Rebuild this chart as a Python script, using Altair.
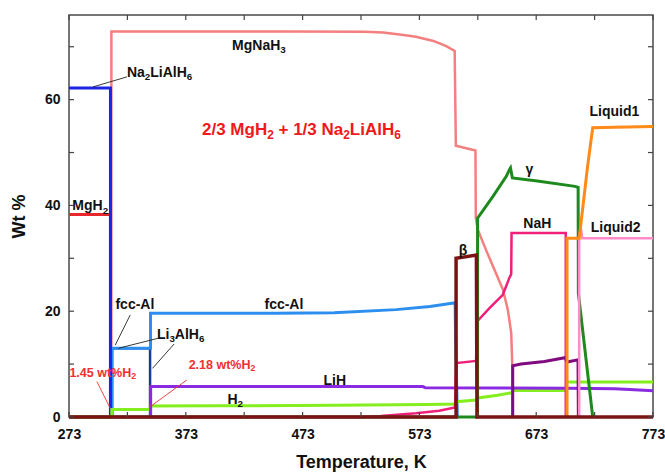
import altair as alt
import pandas as pd

FONT = "Liberation Sans"

# ---------------- series data (Temperature K, Wt %) ----------------
mgh2_T = [273, 308.5, 308.5]
mgh2_W = [38.3, 38.3, 0]

na2lialh6_T = [273, 308.5, 308.5]
na2lialh6_W = [62.2, 62.2, 0]

mgnah3_T = [309.3, 309.3, 462, 526, 542, 556, 570, 585, 596, 603.2, 604.2, 621, 621.3, 623, 630, 636, 644.5, 648.7, 651.6, 652.5, 652.5]
mgnah3_W = [0, 72.9, 72.9, 72.85, 72.7, 72.3, 71.9, 71.1, 70.1, 69.2, 51.3, 50.4, 37.6, 35.4, 31.6, 28.5, 24.1, 20.3, 15.9, 10.0, 0]

li3alh6_T = [309.5, 309.5, 342.4, 342.4]
li3alh6_W = [0, 13.0, 13.0, 0]

fccal_T = [310, 310, 342.8, 342.8, 450, 500, 553, 582, 595, 603.6, 604, 605.5]
fccal_W = [0, 13.0, 13.0, 19.6, 19.6, 19.7, 20.3, 20.9, 21.3, 21.6, 14.9, 0]

h2_T = [273, 309.6, 309.6, 342.6, 342.6, 400, 500, 580, 603.5, 604.5, 621.5, 623, 640, 652, 653, 698.8, 698.8, 773]
h2_W = [0, 0, 1.4, 1.4, 2.1, 2.12, 2.2, 2.35, 2.45, 2.9, 3.2, 3.6, 4.1, 4.6, 5.0, 5.0, 6.6, 6.6]

lih_T = [342.9, 342.9, 576, 578, 700, 740, 753, 773]
lih_W = [0, 5.75, 5.75, 5.55, 5.45, 5.35, 5.2, 4.95]

nah_T = [273, 522, 540, 570, 590, 603.5, 604.6, 621.5, 622.6, 633, 644.4, 650, 651.6, 651.9, 698.3, 698.3]
nah_W = [0, 0, 0.2, 0.7, 1.2, 1.8, 10.2, 10.6, 18.1, 20.6, 23.1, 26.3, 27.0, 34.8, 34.8, 0]

gamma_T = [273, 622.8, 622.8, 636, 647.4, 650.2, 651, 652.6, 674, 706.2, 708.9, 709.1, 721.4]
gamma_W = [0, 0, 37.6, 41.7, 45.5, 46.8, 47.1, 45.2, 44.6, 43.6, 43.4, 23.4, 0]

other_T = [652.9, 652.9, 660, 680, 697.5, 699.5, 708.8, 709.1]
other_W = [0, 9.7, 10.0, 10.5, 11.2, 10.4, 10.8, 0]

liquid2_T = [709.8, 709.8, 711.2, 712.5, 773]
liquid2_W = [0, 33.8, 35.7, 33.8, 33.8]

liquid1_T = [699.4, 699.4, 709.8, 712, 717, 721.4, 740, 773]
liquid1_W = [0, 33.8, 33.8, 37.9, 47.4, 54.7, 54.8, 54.9]

beta_T = [273, 604.4, 604.4, 621.8, 622.3, 773]
beta_W = [0, 0, 30.0, 30.6, 0, 0]

series = [
    ("MgNaH3", mgnah3_T, mgnah3_W, "#f47f7f", 2.5),
    ("MgH2", mgh2_T, mgh2_W, "#e8262b", 3),
    ("Li3AlH6", li3alh6_T, li3alh6_W, "#1b3a8c", 2.5),
    ("fcc-Al", fccal_T, fccal_W, "#2c8ff0", 3),
    ("Na2LiAlH6", na2lialh6_T, na2lialh6_W, "#1c25e6", 3),
    ("H2", h2_T, h2_W, "#84ee1e", 3),
    ("LiH", lih_T, lih_W, "#8a2be2", 3),
    ("NaH", nah_T, nah_W, "#f0207a", 2.5),
    ("gamma", gamma_T, gamma_W, "#1e8a1e", 3),
    ("other", other_T, other_W, "#800a80", 3),
    ("Liquid2", liquid2_T, liquid2_W, "#ff8cc8", 2.5),
    ("Liquid1", liquid1_T, liquid1_W, "#ff8a1a", 3),
    ("beta", beta_T, beta_W, "#7a1414", 3.5),
]

# ---------------- labels ('_' marks the next character as a subscript) ----------------
label_text = ["MgNaH_3", "Na_2LiAlH_6", "MgH_2", "Liquid1", "γ", "NaH", "Liquid2", "β",
              "fcc-Al", "fcc-Al", "Li_3AlH_6", "LiH", "H_2"]
label_T = [435.6, 350.6, 291.2, 740, 667.4, 674, 741, 610.3, 329.4, 457, 368.6, 500.6, 415.3]
label_W = [70.3, 65.2, 40.0, 57.8, 46.8, 36.6, 36.0, 31.5, 21.4, 21.4, 15.7, 7.0, 3.4]

red_text = ["2/3 MgH_2 + 1/3 Na_2LiAlH_6"]
red_T = [472.0]
red_W = [54.5]

note_text = ["1.45 wt%H_2", "2.18 wt%H_2"]
note_T = [301.9, 404.0]
note_W = [8.5, 10.0]

# leader lines (black and red)
lead_T1 = [322.6, 325.4, 349.6, 363.0]
lead_W1 = [64.3, 19.3, 14.9, 13.8]
lead_T2 = [293.5, 312.6, 315.4, 344.5]
lead_W2 = [62.4, 13.6, 13.0, 9.2]

rlead_T1 = [296.9, 373.9]
rlead_W1 = [6.7, 7.0]
rlead_T2 = [308.3, 342.5]
rlead_W2 = [1.65, 1.95]

x_ticks = [273, 323, 373, 423, 473, 523, 573, 623, 673, 723, 773]
x_labels = [273, 373, 473, 573, 673, 773]
y_ticks = [0, 10, 20, 30, 40, 50, 60, 70]
y_labels = [0, 20, 40, 60]

W, H = 584, 402

xscale = alt.Scale(domain=[273, 773], nice=False, zero=False)
yscale = alt.Scale(domain=[0, 76], nice=False, zero=False)

xaxis = alt.Axis(values=x_labels, title="Temperature, K", labelFont=FONT, labelFontSize=14,
                 labelFontWeight="bold", labelColor="#111", labelPadding=10, ticks=False,
                 domain=False, grid=False, labelFlush=False, titleFont=FONT, titleFontSize=18,
                 titleFontWeight="bold", titleColor="#111", titlePadding=12)
yaxis = alt.Axis(values=y_labels, title="Wt %", labelFont=FONT, labelFontSize=14,
                 labelFontWeight="bold", labelColor="#111", labelPadding=9, ticks=False,
                 domain=False, grid=False, titleFont=FONT, titleFontSize=18,
                 titleFontWeight="bold", titleColor="#111", titlePadding=16)

# Arial/Liberation Sans Bold advance widths (per em)
ADV = {" ": .278, "%": .889, "+": .584, ".": .278, "/": .278, "-": .333,
       "A": .722, "H": .722, "L": .611, "M": .833, "N": .722,
       "a": .556, "c": .556, "d": .611, "f": .333, "g": .611, "i": .278, "l": .278,
       "q": .611, "t": .333, "u": .611, "w": .778, "h": .611, "e": .556, "r": .389}


def adv(ch):
    if ch.isdigit():
        return .556
    return ADV.get(ch, .6)


def split_parts(s):
    parts = []
    cur = ""
    i = 0
    while i < len(s):
        if s[i] == "_" and i + 1 < len(s):
            if cur:
                parts.append((cur, False))
                cur = ""
            parts.append((s[i + 1], True))
            i += 2
        else:
            cur += s[i]
            i += 1
    if cur:
        parts.append((cur, False))
    return parts


SUB = 0.7


def text_layers(texts, ts, ws, size, color):
    out = []
    for txt, t, w in zip(texts, ts, ws):
        parts = split_parts(txt)
        widths = [sum(adv(c) for c in p) * size * (SUB if sub else 1) for p, sub in parts]
        x0 = -sum(widths) / 2
        base_dy = 0.36 * size
        for (p, sub), wd in zip(parts, widths):
            fs = size * SUB if sub else size
            dy = base_dy + (0.22 * size if sub else 0)
            lead = len(p) - len(p.lstrip(" "))
            shown = p.strip(" ")
            dx = x0 + lead * adv(" ") * fs
            out.append(
                alt.Chart(pd.DataFrame({"txt": [shown], "T": [t], "W": [w]})).mark_text(
                    font=FONT, fontSize=fs, fontWeight="bold", color=color,
                    align="left", baseline="alphabetic", dx=dx, dy=dy,
                ).encode(x=alt.X("T:Q", scale=xscale), y=alt.Y("W:Q", scale=yscale), text="txt:N")
            )
            x0 += wd
    return out


rows = []
for name, ts, ws, _, _ in series:
    for i, (t, w) in enumerate(zip(ts, ws)):
        rows.append({"s": name, "T": t, "W": w, "i": i})
df = pd.DataFrame(rows)

layers = []
# axis carrier (invisible)
layers.append(
    alt.Chart(pd.DataFrame({"T": [273, 773], "W": [0, 76]})).mark_point(opacity=0).encode(
        x=alt.X("T:Q", scale=xscale, axis=xaxis),
        y=alt.Y("W:Q", scale=yscale, axis=yaxis),
    )
)

for name, ts, ws, col, sw in series:
    layers.append(
        alt.Chart(df).transform_filter(alt.datum.s == name).mark_line(
            color=col, strokeWidth=sw, clip=False, strokeJoin="miter", interpolate="linear"
        ).encode(
            x=alt.X("T:Q", scale=xscale),
            y=alt.Y("W:Q", scale=yscale),
            order="i:Q",
        )
    )

# leader lines
lead_df = pd.DataFrame({"t1": lead_T1, "w1": lead_W1, "t2": lead_T2, "w2": lead_W2})
layers.append(alt.Chart(lead_df).mark_rule(color="#222", strokeWidth=0.9).encode(
    x=alt.X("t1:Q", scale=xscale), x2="t2:Q", y=alt.Y("w1:Q", scale=yscale), y2="w2:Q"))
rlead_df = pd.DataFrame({"t1": rlead_T1, "w1": rlead_W1, "t2": rlead_T2, "w2": rlead_W2})
layers.append(alt.Chart(rlead_df).mark_rule(color="#f03030", strokeWidth=0.9).encode(
    x=alt.X("t1:Q", scale=xscale), x2="t2:Q", y=alt.Y("w1:Q", scale=yscale), y2="w2:Q"))

# labels
layers += text_layers(label_text, label_T, label_W, 14, "#111")
layers += text_layers(red_text, red_T, red_W, 17, "#f01818")
layers += text_layers(note_text, note_T, note_W, 12.5, "#f03030")

# inward ticks
xt_df = pd.DataFrame({"v": x_ticks})
yt_df = pd.DataFrame({"v": y_ticks})
tick_col = "#444"
layers.append(alt.Chart(xt_df).mark_rule(color=tick_col, strokeWidth=1.2).encode(
    x=alt.X("v:Q", scale=xscale), y=alt.value(H), y2=alt.value(H - 5)))
layers.append(alt.Chart(xt_df).mark_rule(color=tick_col, strokeWidth=1.2).encode(
    x=alt.X("v:Q", scale=xscale), y=alt.value(0), y2=alt.value(5)))
layers.append(alt.Chart(yt_df).mark_rule(color=tick_col, strokeWidth=1.2).encode(
    y=alt.Y("v:Q", scale=yscale), x=alt.value(0), x2=alt.value(5)))
layers.append(alt.Chart(yt_df).mark_rule(color=tick_col, strokeWidth=1.2).encode(
    y=alt.Y("v:Q", scale=yscale), x=alt.value(W), x2=alt.value(W - 5)))

chart = alt.layer(*layers).properties(
    width=W, height=H,
    autosize=alt.AutoSizeParams(type="none"),
    padding={"left": 69, "top": 15, "right": 12, "bottom": 56},
    background="white",
).configure_view(stroke="#4a4a4a", strokeWidth=1.5)

chart.save("out.html", embed_options={"renderer": "svg", "actions": False})
